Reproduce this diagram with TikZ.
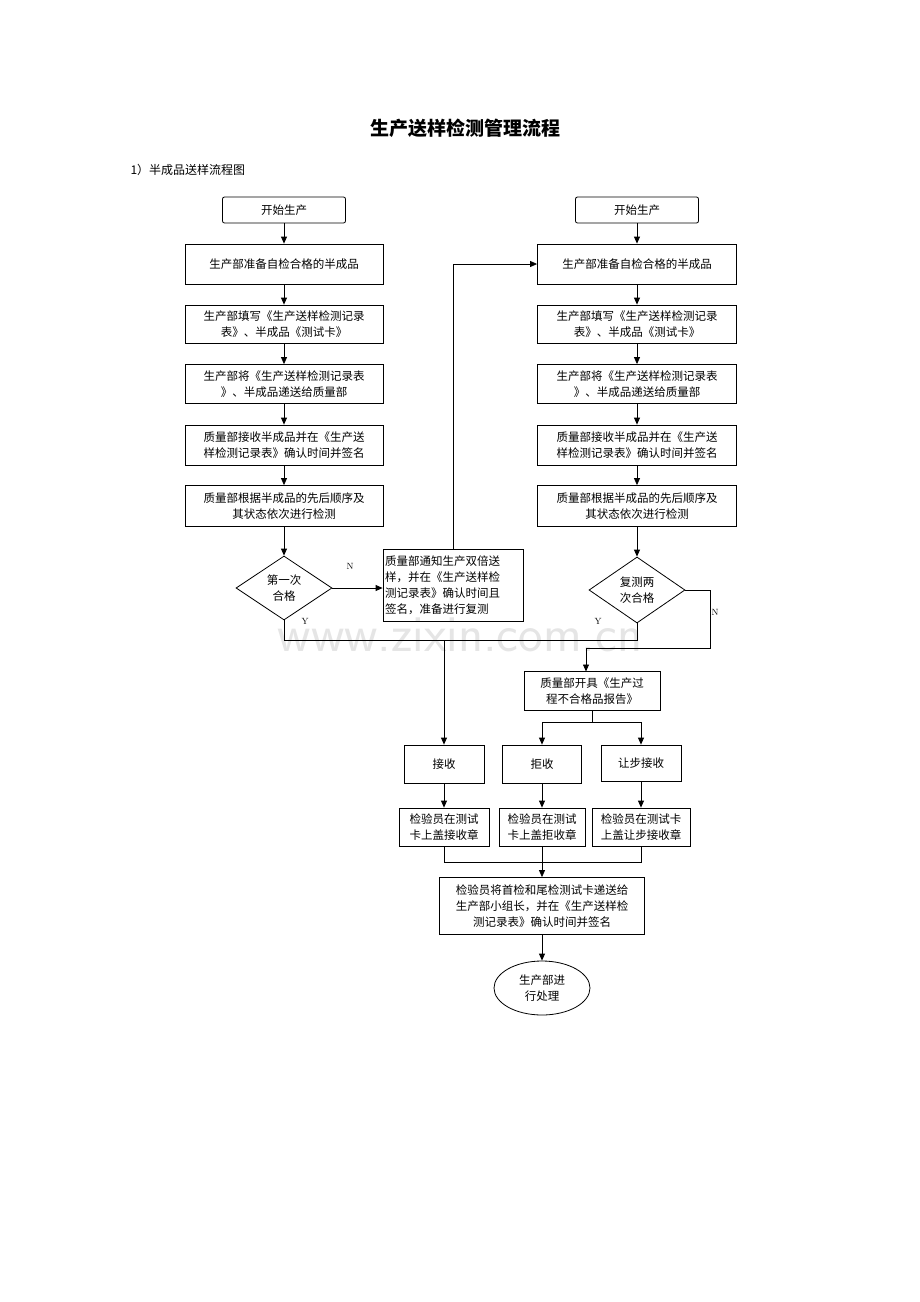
\documentclass[tikz,border=0pt]{standalone}
\usepackage{fontspec}
\newfontfamily\cjk{Noto Sans CJK SC}
\usetikzlibrary{shapes.geometric,arrows.meta}
\begin{document}
\begin{tikzpicture}[x=1pt,y=-1pt,
  every node/.style={font=\cjk\fontsize{11.5}{16}\selectfont},
  box/.style={draw,thick,minimum height=40pt,inner sep=2pt,align=center},
  arr/.style={thick,-{Triangle[length=7pt,width=6pt]}},
  ln/.style={thick}]
\useasboundingbox (0,0) rectangle (920,1302);
\node[font=\cjk\bfseries\fontsize{19}{22}\selectfont] (title) at (465,128) {生产送样检测管理流程};
\node[anchor=west,font=\cjk\fontsize{12}{14}\selectfont] (sub) at (127,170) {1）半成品送样流程图};
\node[text=black!10,font=\sffamily\fontsize{52}{52}\selectfont] (wm) at (460,635) {www.zixin.com.cn};
% left column
\node[box,rounded corners=2pt,minimum width=123pt,minimum height=26pt] (ls) at (284,210) {开始生产};
\node[box,minimum width=198pt,text width=190pt] (l1) at (284,264) {生产部准备自检合格的半成品};
\node[box,minimum width=198pt,text width=190pt,minimum height=38pt] (l2) at (284,324) {生产部填写《生产送样检测记录\\表》、半成品《测试卡》};
\node[box,minimum width=198pt,text width=190pt,minimum height=39pt] (l3) at (284,384) {生产部将《生产送样检测记录表\\》、半成品递送给质量部};
\node[box,minimum width=198pt,text width=190pt] (l4) at (284,445) {质量部接收半成品并在《生产送\\样检测记录表》确认时间并签名};
\node[box,minimum width=198pt,text width=190pt,minimum height=41pt] (l5) at (284,506) {质量部根据半成品的先后顺序及\\其状态依次进行检测};
\node[diamond,draw,thick,aspect=1.5,minimum width=96pt,minimum height=64pt,inner sep=0pt,align=center] (ld) at (284,588) {第一次\\合格};
\node[box,minimum width=140pt,text width=136pt,minimum height=72pt,align=left] (nb) at (453,585) {质量部通知生产双倍送\\样，并在《生产送样检\\测记录表》确认时间且\\签名，准备进行复测};
% right column
\node[box,rounded corners=2pt,minimum width=123pt,minimum height=26pt] (rs) at (637,210) {开始生产};
\node[box,minimum width=199pt,text width=190pt] (r1) at (637,264) {生产部准备自检合格的半成品};
\node[box,minimum width=199pt,text width=190pt,minimum height=38pt] (r2) at (637,324) {生产部填写《生产送样检测记录\\表》、半成品《测试卡》};
\node[box,minimum width=199pt,text width=190pt,minimum height=39pt] (r3) at (637,384) {生产部将《生产送样检测记录表\\》、半成品递送给质量部};
\node[box,minimum width=199pt,text width=190pt] (r4) at (637,445) {质量部接收半成品并在《生产送\\样检测记录表》确认时间并签名};
\node[box,minimum width=199pt,text width=190pt,minimum height=41pt] (r5) at (637,506) {质量部根据半成品的先后顺序及\\其状态依次进行检测};
\node[diamond,draw,thick,aspect=1.5,minimum width=96pt,minimum height=66pt,inner sep=0pt,align=center] (rd) at (637,590) {复测两\\次合格};
\node[box,minimum width=136pt,minimum height=39pt] (rep) at (592,691) {质量部开具《生产过\\程不合格品报告》};
\node[box,minimum width=80pt,minimum height=38pt] (a1) at (444,764) {接收};
\node[box,minimum width=79pt,minimum height=38pt] (a2) at (542,764) {拒收};
\node[box,minimum width=80pt,minimum height=36pt] (a3) at (641,763) {让步接收};
\node[box,minimum width=90pt,minimum height=38pt] (c1) at (444,827) {检验员在测试\\卡上盖接收章};
\node[box,minimum width=86pt,minimum height=38pt] (c2) at (542,827) {检验员在测试\\卡上盖拒收章};
\node[box,minimum width=98pt,minimum height=38pt] (c3) at (641,827) {检验员在测试卡\\上盖让步接收章};
\node[box,minimum width=205pt,minimum height=57pt] (fin) at (542,906) {检验员将首检和尾检测试卡递送给\\生产部小组长，并在《生产送样检\\测记录表》确认时间并签名};
\node[ellipse,draw,thick,minimum width=96pt,minimum height=54pt,inner sep=0pt,align=center] (end) at (542,988) {生产部进\\行处理};
% labels
\node[font=\rmfamily\fontsize{9}{9}\selectfont] (nl) at (350,566) {N};
\node[font=\rmfamily\fontsize{9}{9}\selectfont] (yl) at (305,621) {Y};
\node[font=\rmfamily\fontsize{9}{9}\selectfont] (yr) at (598,621) {Y};
\node[font=\rmfamily\fontsize{9}{9}\selectfont] (nr) at (715,612) {N};
\coordinate (j) at (444,640);
\coordinate (m) at (592,722);
\coordinate (k) at (542,862);
% arrows
\foreach \a/\b in {ls/l1,l1/l2,l2/l3,l3/l4,l4/l5,l5/ld,rs/r1,r1/r2,r2/r3,r3/r4,r4/r5,r5/rd,a1/c1,a2/c2,a3/c3,fin/end}
  \draw[arr] (\a) -- (\b);
\draw[arr] (ld.east) -- (ld.east -| nb.west);
\draw[arr] (nb.north) |- (r1.west);
\draw[ln] (ld.south) |- (j) -- (j -| rd.south) -- (rd.south);
\draw[arr] (j) -- (a1.north);
\draw[arr] (rd.east) -- ++(25,0) |- (586,648) -- (586,671.5);
\draw[ln] (rep.south) -- (m);
\draw[ln] (a2.north |- m) -- (a3.north |- m);
\draw[arr] (a2.north |- m) -- (a2.north);
\draw[arr] (a3.north |- m) -- (a3.north);
\draw[ln] (c1.south) |- (k) -| (c3.south);
\draw[ln] (c2.south) -- (k);
\draw[arr] (k) -- (fin.north);
\end{tikzpicture}
\end{document}
